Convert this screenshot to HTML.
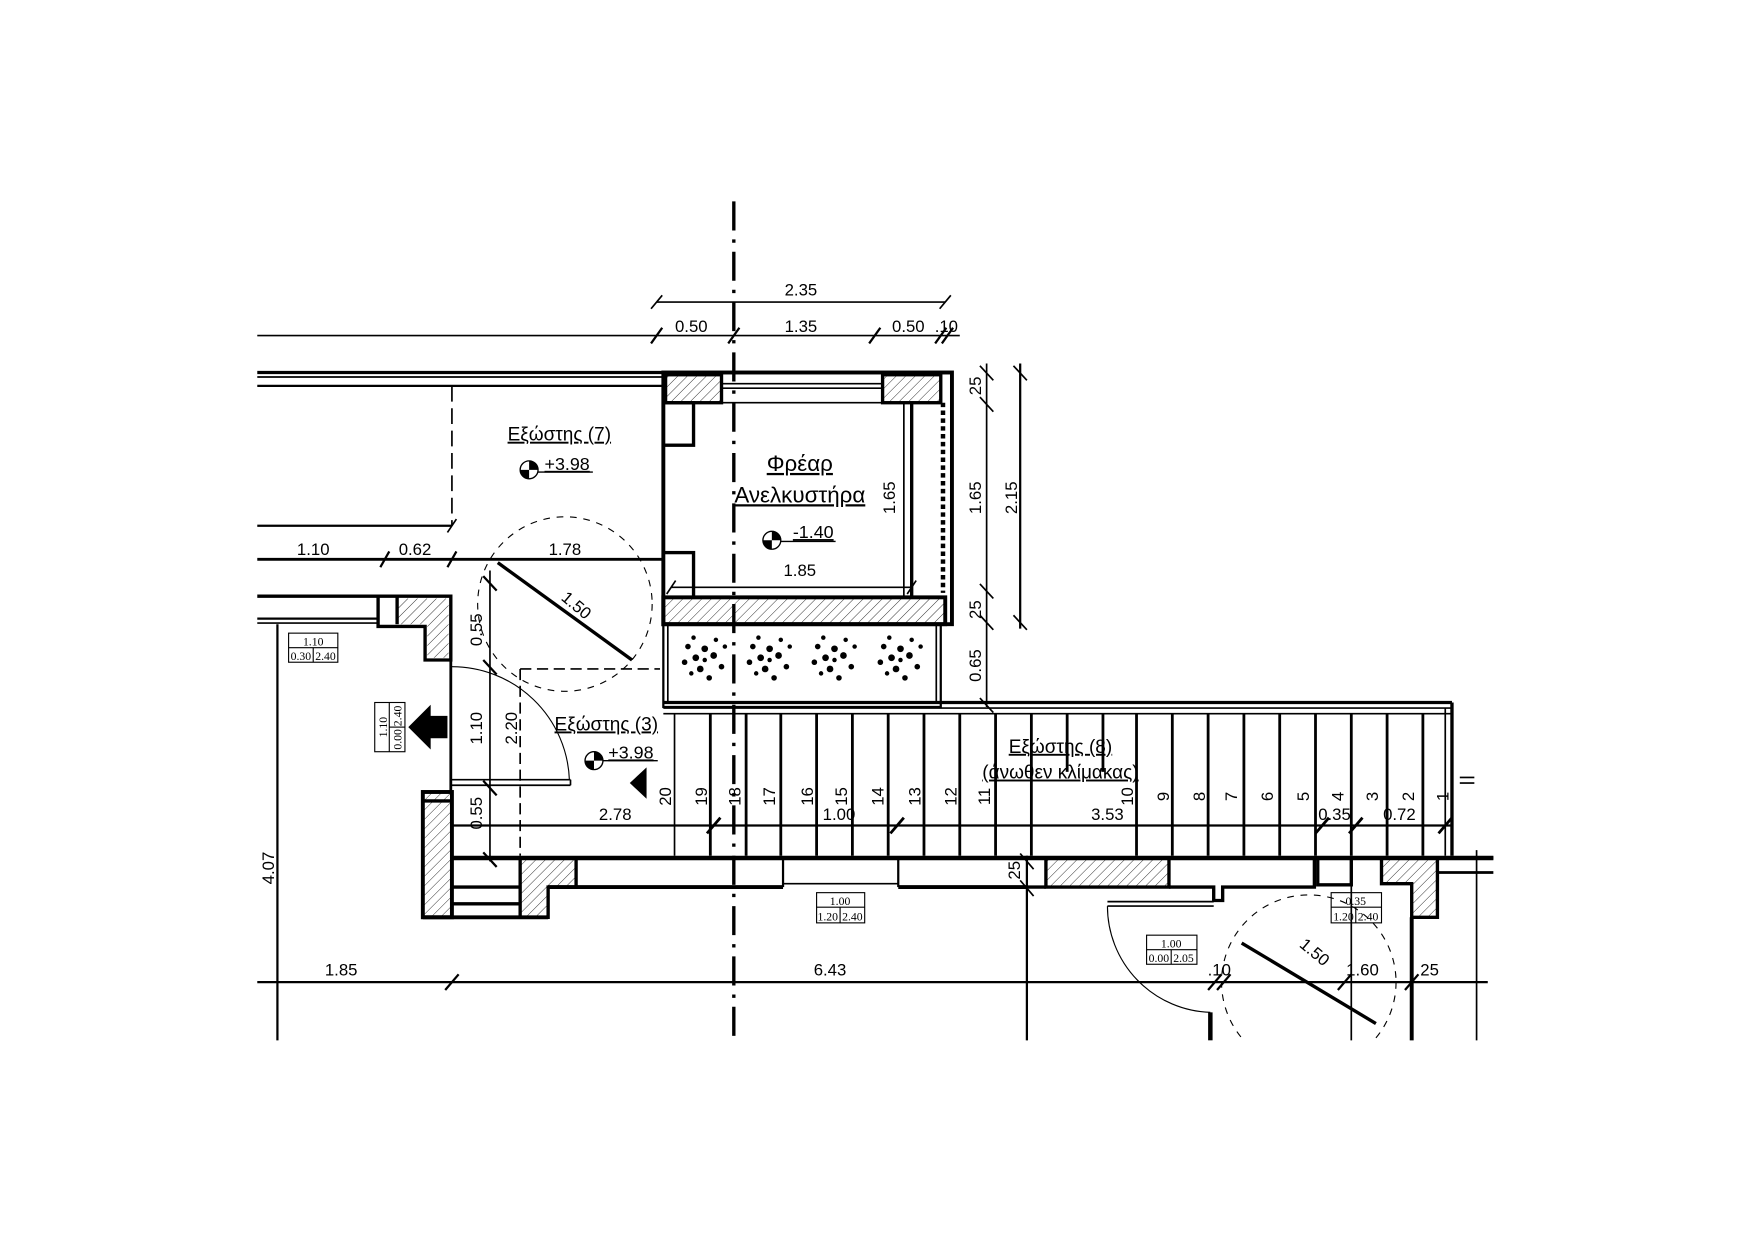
<!DOCTYPE html>
<html><head><meta charset="utf-8"><style>
html,body{margin:0;padding:0;background:#fff}
svg{display:block}
text{font-family:"Liberation Sans",sans-serif;fill:#000}
</style></head><body>
<svg width="1754" height="1240" viewBox="0 0 1568 1108.5" xmlns="http://www.w3.org/2000/svg">
<defs>
<pattern id="h" width="6" height="6" patternUnits="userSpaceOnUse" patternTransform="rotate(45)">
<line x1="0" y1="0" x2="0" y2="6" stroke="#000" stroke-width="0.7"/>
</pattern>
<clipPath id="c"><rect x="0" y="0" width="1568" height="931"/></clipPath>
</defs>
<rect width="1568" height="1108.5" fill="#fff"/>
<g clip-path="url(#c)">
<g stroke="#000" fill="none" stroke-width="1.5">
<line x1="656" y1="180" x2="656" y2="930" stroke-width="3" stroke-dasharray="26,8,3,8"/>
<line x1="587" y1="270" x2="845" y2="270"/>
<line x1="582" y1="276" x2="592" y2="264"/><line x1="840" y1="276" x2="850" y2="264"/>
<line x1="230" y1="300" x2="858" y2="300"/>
<g stroke-width="2"><line x1="582" y1="307" x2="592" y2="293"/><line x1="651" y1="307" x2="661" y2="293"/><line x1="777" y1="307" x2="787" y2="293"/><line x1="836" y1="307" x2="846" y2="293"/><line x1="842" y1="307" x2="852" y2="293"/></g>
<line x1="230" y1="333" x2="592" y2="333" stroke-width="3"/>
<line x1="230" y1="337" x2="592" y2="337"/>
<line x1="230" y1="345" x2="592" y2="345" stroke-width="2"/>
<line x1="404" y1="345" x2="404" y2="470" stroke-dasharray="14,6"/>
<line x1="230" y1="470" x2="404" y2="470" stroke-width="2"/>
<line x1="400" y1="476" x2="408" y2="464"/>
<line x1="230" y1="500" x2="592" y2="500" stroke-width="2.5"/>
<line x1="340" y1="507" x2="348" y2="493" stroke-width="2"/><line x1="400" y1="507" x2="408" y2="493" stroke-width="2"/>
<rect x="593" y="333" width="258" height="225" stroke-width="3.5"/>
<rect x="595" y="335" width="50" height="25" fill="url(#h)" stroke-width="3"/>
<rect x="789" y="335" width="52" height="25" fill="url(#h)" stroke-width="3"/>
<line x1="645" y1="343" x2="789" y2="343"/><line x1="645" y1="347" x2="789" y2="347"/>
<rect x="593" y="360" width="27" height="38" stroke-width="3"/>
<rect x="593" y="494" width="27" height="40" stroke-width="3"/>
<line x1="620" y1="360" x2="790" y2="360"/>
<line x1="808" y1="360" x2="808" y2="534"/><line x1="815" y1="360" x2="815" y2="534" stroke-width="3"/>
<line x1="843" y1="360" x2="843" y2="530" stroke-width="4" stroke-dasharray="4,3"/>
<rect x="593" y="534" width="252" height="24" fill="url(#h)" stroke-width="3.5"/>
<line x1="600" y1="525" x2="815" y2="525"/>
<line x1="596" y1="531" x2="604" y2="519"/><line x1="811" y1="531" x2="819" y2="519"/>
<line x1="882" y1="325" x2="882" y2="632"/>
<line x1="876" y1="327" x2="888" y2="340"/><line x1="876" y1="355" x2="888" y2="368"/><line x1="876" y1="522" x2="888" y2="535"/><line x1="876" y1="550" x2="888" y2="563"/><line x1="876" y1="624" x2="888" y2="637"/>
<line x1="912" y1="325" x2="912" y2="562" stroke-width="2"/>
<line x1="906" y1="327" x2="918" y2="340"/><line x1="906" y1="550" x2="918" y2="563"/>
<rect x="593" y="558" width="248" height="74" stroke-width="2"/>
<line x1="597" y1="558" x2="597" y2="628"/><line x1="837" y1="558" x2="837" y2="628"/>
<line x1="593" y1="628" x2="1298" y2="628" stroke-width="3"/>
<line x1="593" y1="633" x2="1298" y2="633"/>
<line x1="593" y1="638" x2="1298" y2="638"/>
<line x1="1298" y1="628" x2="1298" y2="765" stroke-width="3"/>
<line x1="1292" y1="633" x2="1292" y2="765"/>
<line x1="1305" y1="695" x2="1318" y2="695"/><line x1="1305" y1="700" x2="1318" y2="700"/>
<line x1="404" y1="738" x2="1298" y2="738" stroke-width="2"/>
<g stroke-width="2.5">
<line x1="603" y1="638" x2="603" y2="765" stroke-width="1.5"/><line x1="635" y1="638" x2="635" y2="765"/><line x1="667" y1="638" x2="667" y2="765"/><line x1="698" y1="638" x2="698" y2="765"/><line x1="730" y1="638" x2="730" y2="765"/><line x1="762" y1="638" x2="762" y2="765"/><line x1="794" y1="638" x2="794" y2="765"/><line x1="826" y1="638" x2="826" y2="765"/><line x1="858" y1="638" x2="858" y2="765"/><line x1="890" y1="638" x2="890" y2="765"/><line x1="922" y1="638" x2="922" y2="765"/><line x1="954" y1="638" x2="954" y2="690"/><line x1="986" y1="638" x2="986" y2="690"/><line x1="1016" y1="638" x2="1016" y2="765"/><line x1="1048" y1="638" x2="1048" y2="765"/><line x1="1080" y1="638" x2="1080" y2="765"/><line x1="1112" y1="638" x2="1112" y2="765"/><line x1="1144" y1="638" x2="1144" y2="765"/><line x1="1176" y1="638" x2="1176" y2="765"/><line x1="1208" y1="638" x2="1208" y2="765"/><line x1="1240" y1="638" x2="1240" y2="765"/><line x1="1272" y1="638" x2="1272" y2="765"/>
<line x1="796" y1="745" x2="808" y2="731"/><line x1="632" y1="745" x2="644" y2="731"/><line x1="1176" y1="745" x2="1188" y2="731"/><line x1="1206" y1="745" x2="1218" y2="731"/><line x1="1286" y1="745" x2="1298" y2="731"/>
</g>
<line x1="230" y1="533" x2="338" y2="533" stroke-width="3"/>
<line x1="230" y1="553" x2="338" y2="553" stroke-width="2"/><line x1="230" y1="557" x2="338" y2="557"/>
<path d="M338 533 H403 V590 H380 V560 H338 Z" stroke-width="3"/>
<path d="M355 535 H401 V588 H382 V558 H355 Z" fill="url(#h)" stroke="none"/>
<line x1="355" y1="533" x2="355" y2="558" stroke-width="3"/>
<line x1="403" y1="590" x2="403" y2="708" stroke-width="2.5"/>
<line x1="248" y1="558" x2="248" y2="930" stroke-width="2"/>
<rect x="378" y="708" width="26" height="112" stroke-width="3.5" fill="url(#h)"/>
<line x1="378" y1="716" x2="404" y2="716" stroke-width="3"/>
<line x1="404" y1="767" x2="1335" y2="767" stroke-width="4"/>
<line x1="404" y1="793" x2="465" y2="793" stroke-width="3"/><line x1="404" y1="808" x2="465" y2="808" stroke-width="3"/>
<path d="M465 767 H515 V793 H490 V820 H465 Z" fill="url(#h)" stroke-width="3"/>
<line x1="378" y1="820" x2="490" y2="820" stroke-width="3.5"/>
<line x1="490" y1="793" x2="700" y2="793" stroke-width="3.5"/>
<line x1="700" y1="767" x2="700" y2="793" stroke-width="2"/><line x1="803" y1="767" x2="803" y2="793" stroke-width="2"/>
<line x1="700" y1="790" x2="803" y2="790"/>
<line x1="803" y1="793" x2="918" y2="793" stroke-width="3.5"/>
<rect x="935" y="767" width="110" height="26" fill="url(#h)" stroke-width="3"/>
<line x1="918" y1="793" x2="935" y2="793" stroke-width="3"/>
<path d="M1045 793 H1085 V805 H1093 V793 H1175 V767" stroke-width="3"/>
<rect x="1178" y="767" width="30" height="24" stroke-width="3"/>
<path d="M1235 767 H1285 V820 H1262 V790 H1235 Z" fill="url(#h)" stroke-width="3"/>
<line x1="1262" y1="820" x2="1262" y2="930" stroke-width="3.5"/>
<line x1="1285" y1="767" x2="1335" y2="767" stroke-width="3"/>
<line x1="1285" y1="780" x2="1335" y2="780" stroke-width="2.5"/>
<line x1="1320" y1="760" x2="1320" y2="930"/>
<line x1="918" y1="765" x2="918" y2="930" stroke-width="2"/>
<line x1="1082" y1="905" x2="1082" y2="930" stroke-width="4"/>
<line x1="990" y1="806" x2="1085" y2="806"/><line x1="990" y1="810" x2="1085" y2="810"/>
<line x1="438" y1="510" x2="438" y2="770"/>
<line x1="432" y1="515" x2="444" y2="528" stroke-width="2"/><line x1="432" y1="590" x2="444" y2="603" stroke-width="2"/><line x1="432" y1="698" x2="444" y2="711" stroke-width="2"/><line x1="432" y1="762" x2="444" y2="775" stroke-width="2"/>
<line x1="465" y1="598" x2="465" y2="765" stroke-dasharray="10,5"/>
<line x1="465" y1="598" x2="590" y2="598" stroke-dasharray="10,5"/>
<line x1="404" y1="697" x2="510" y2="697"/><line x1="404" y1="702" x2="510" y2="702"/><line x1="510" y1="697" x2="510" y2="702"/>
<path d="M404 596 A105 105 0 0 1 509 697" stroke-width="1"/>
<path d="M990 810 A95 95 0 0 0 1082 905" stroke-width="1"/>
<circle cx="505" cy="540" r="78" stroke-width="1" stroke-dasharray="6,6"/>
<line x1="445" y1="503" x2="565" y2="590" stroke-width="3"/>
<circle cx="1170" cy="878" r="78" stroke-width="1" stroke-dasharray="6,6"/>
<line x1="1110" y1="843" x2="1230" y2="915" stroke-width="3"/>
<line x1="1208" y1="791" x2="1208" y2="930"/>
<line x1="230" y1="878" x2="1330" y2="878" stroke-width="2"/>
<line x1="398" y1="885" x2="410" y2="871" stroke-width="2"/>
<line x1="1080" y1="885" x2="1092" y2="871" stroke-width="2"/><line x1="1088" y1="885" x2="1100" y2="871" stroke-width="2"/>
<line x1="1256" y1="885" x2="1268" y2="871" stroke-width="2"/><line x1="1196" y1="885" x2="1208" y2="871" stroke-width="2"/>
<line x1="912" y1="763" x2="924" y2="777"/><line x1="912" y1="787" x2="924" y2="801"/>
<g stroke-width="1">
<rect x="258" y="566" width="44" height="26"/><line x1="258" y1="579" x2="302" y2="579"/><line x1="280" y1="579" x2="280" y2="592"/>
<rect x="335" y="628" width="27" height="44"/><line x1="348" y1="628" x2="348" y2="672"/><line x1="348" y1="650" x2="362" y2="650"/>
<rect x="730" y="798" width="43" height="27"/><line x1="730" y1="811" x2="773" y2="811"/><line x1="751" y1="811" x2="751" y2="825"/>
<rect x="1025" y="836" width="45" height="26"/><line x1="1025" y1="849" x2="1070" y2="849"/><line x1="1047" y1="849" x2="1047" y2="862"/>
<rect x="1190" y="798" width="45" height="27"/><line x1="1190" y1="811" x2="1235" y2="811"/><line x1="1212" y1="811" x2="1212" y2="825"/>
</g>
</g>
</g>
<polygon points="365,650 385,630 385,640 400,640 400,660 385,660 385,670" fill="#000"/>
<polygon points="563,700 578,686 578,714" fill="#000"/>
<g fill="#000">
<g id="s"><circle cx="630" cy="580" r="3"/><circle cx="622" cy="588" r="3"/><circle cx="638" cy="586" r="3"/><circle cx="626" cy="598" r="3"/><circle cx="645" cy="596" r="2.5"/><circle cx="615" cy="578" r="2.5"/><circle cx="634" cy="606" r="2.5"/><circle cx="618" cy="602" r="2"/><circle cx="648" cy="578" r="2"/><circle cx="612" cy="592" r="2.5"/><circle cx="640" cy="572" r="2"/><circle cx="630" cy="590" r="2"/><circle cx="620" cy="570" r="2"/></g>
<use href="#s" x="58"/><use href="#s" x="116"/><use href="#s" x="175"/>
</g>
<g>
<circle cx="473" cy="420" r="8" fill="none" stroke="#000" stroke-width="1.2"/><path d="M473 412 A8 8 0 0 1 481 420 H473Z M473 420 V428 A8 8 0 0 1 465 420Z" fill="#000"/>
<line x1="481" y1="422" x2="530" y2="422" stroke="#000" stroke-width="1.3"/>
<circle cx="690" cy="483" r="8" fill="none" stroke="#000" stroke-width="1.2"/><path d="M690 475 A8 8 0 0 1 698 483 H690Z M690 483 V491 A8 8 0 0 1 682 483Z" fill="#000"/>
<line x1="698" y1="484" x2="747" y2="484" stroke="#000" stroke-width="1.3"/>
<circle cx="531" cy="680" r="8" fill="none" stroke="#000" stroke-width="1.2"/><path d="M531 672 A8 8 0 0 1 539 680 H531Z M531 680 V688 A8 8 0 0 1 523 680Z" fill="#000"/>
<line x1="539" y1="680" x2="588" y2="680" stroke="#000" stroke-width="1.3"/>
</g>
<g font-size="15" text-anchor="middle">
<text x="716" y="264">2.35</text>
<text x="618" y="297">0.50</text><text x="716" y="297">1.35</text><text x="812" y="297">0.50</text><text x="846" y="297">.10</text>
<text x="280" y="496">1.10</text><text x="371" y="496">0.62</text><text x="505" y="496">1.78</text>
<text x="715" y="515">1.85</text>
<text x="550" y="733">2.78</text><text x="750" y="733">1.00</text><text x="990" y="733">3.53</text><text x="1193" y="733">0.35</text><text x="1251" y="733">0.72</text>
<text x="305" y="872">1.85</text><text x="742" y="872">6.43</text><text x="1090" y="872">.10</text><text x="1218" y="872">1.60</text><text x="1278" y="872">25</text>
<text transform="translate(512,545) rotate(40)">1.50</text>
<text transform="translate(1172,855) rotate(40)">1.50</text>
<text transform="translate(800,445) rotate(-90)">1.65</text>
<text transform="translate(877,345) rotate(-90)">25</text>
<text transform="translate(877,445) rotate(-90)">1.65</text>
<text transform="translate(877,545) rotate(-90)">25</text>
<text transform="translate(877,595) rotate(-90)">0.65</text>
<text transform="translate(909,445) rotate(-90)">2.15</text>
<text transform="translate(431,563) rotate(-90)">0.55</text>
<text transform="translate(431,651) rotate(-90)">1.10</text>
<text transform="translate(431,727) rotate(-90)">0.55</text>
<text transform="translate(462,651) rotate(-90)">2.20</text>
<text transform="translate(245,776) rotate(-90)">4.07</text>
<text transform="translate(912,778) rotate(-90)">25</text>
</g>
<g font-size="15" text-anchor="middle">
<text transform="translate(600,712) rotate(-90)">20</text><text transform="translate(632,712) rotate(-90)">19</text><text transform="translate(662,712) rotate(-90)">18</text><text transform="translate(693,712) rotate(-90)">17</text><text transform="translate(727,712) rotate(-90)">16</text><text transform="translate(757,712) rotate(-90)">15</text><text transform="translate(790,712) rotate(-90)">14</text><text transform="translate(823,712) rotate(-90)">13</text><text transform="translate(855,712) rotate(-90)">12</text><text transform="translate(885,712) rotate(-90)">11</text>
<text transform="translate(1013,712) rotate(-90)">10</text><text transform="translate(1045,712) rotate(-90)">9</text><text transform="translate(1077,712) rotate(-90)">8</text><text transform="translate(1106,712) rotate(-90)">7</text><text transform="translate(1138,712) rotate(-90)">6</text><text transform="translate(1170,712) rotate(-90)">5</text><text transform="translate(1201,712) rotate(-90)">4</text><text transform="translate(1232,712) rotate(-90)">3</text><text transform="translate(1264,712) rotate(-90)">2</text><text transform="translate(1295,712) rotate(-90)">1</text>
</g>
<g font-size="17" text-anchor="middle" text-decoration="underline">
<text x="500" y="394">Εξώστης (7)</text>
<text x="507" y="420" font-size="16">+3.98</text>
<text x="715" y="421" font-size="20">Φρέαρ</text>
<text x="715" y="449" font-size="20">Ανελκυστήρα</text>
<text x="727" y="481" font-size="16">-1.40</text>
<text x="542" y="653">Εξώστης (3)</text>
<text x="564" y="678" font-size="16">+3.98</text>
<text x="948" y="673">Εξώστης (8)</text>
<text x="948" y="696">(άνωθεν κλίμακας)</text>
</g>
<g font-size="10.5" text-anchor="middle" style="font-family:'Liberation Serif',serif">
<text x="280" y="577" style="font-family:'Liberation Serif',serif">1.10</text><text x="269" y="590" style="font-family:'Liberation Serif',serif">0.30</text><text x="291" y="590" style="font-family:'Liberation Serif',serif">2.40</text>
<text transform="translate(346,650) rotate(-90)" style="font-family:'Liberation Serif',serif">1.10</text><text transform="translate(359,661) rotate(-90)" style="font-family:'Liberation Serif',serif">0.00</text><text transform="translate(359,640) rotate(-90)" style="font-family:'Liberation Serif',serif">2.40</text>
<text x="751" y="809" style="font-family:'Liberation Serif',serif">1.00</text><text x="740" y="823" style="font-family:'Liberation Serif',serif">1.20</text><text x="762" y="823" style="font-family:'Liberation Serif',serif">2.40</text>
<text x="1047" y="847" style="font-family:'Liberation Serif',serif">1.00</text><text x="1036" y="860" style="font-family:'Liberation Serif',serif">0.00</text><text x="1058" y="860" style="font-family:'Liberation Serif',serif">2.05</text>
<text x="1212" y="809" style="font-family:'Liberation Serif',serif">0.35</text><text x="1201" y="823" style="font-family:'Liberation Serif',serif">1.20</text><text x="1223" y="823" style="font-family:'Liberation Serif',serif">2.40</text>
</g>
</svg>
</body></html>
